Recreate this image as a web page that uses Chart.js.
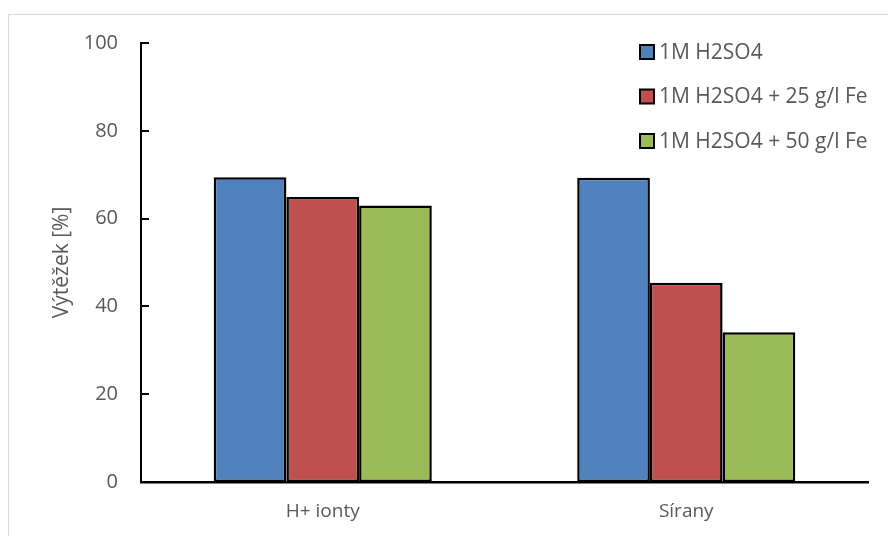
<!DOCTYPE html>
<html>
<head>
<meta charset="utf-8">
<script src="https://cdn.jsdelivr.net/npm/chart.js@4"></script>
<style>
  body { margin: 0; background: #fff; }
  #wrap { position: relative; width: 888px; height: 536px; overflow: hidden; }
  #frame { position: absolute; left: 8px; top: 14px; width: 900px; height: 600px;
           border-left: 1px solid #d9d9d9; border-top: 1px solid #d9d9d9; pointer-events: none; }
</style>
</head>
<body>
<div id="wrap">
  <canvas id="chart" width="888" height="536"></canvas>
  <div id="frame"></div>
</div>
<script>
// kategorie a hodnoty výtěžku [%]
const categories = ['H+ ionty', 'Sírany'];
const seriesNames = ['1M H2SO4', '1M H2SO4 + 25 g/l Fe', '1M H2SO4 + 50 g/l Fe'];
const acid = [69.4, 69.3];
const acidFe25 = [64.9, 45.4];
const acidFe50 = [63.0, 34.1];
const yTicks = [0, 20, 40, 60, 80, 100];

const colors = ['#4F81BD', '#C0504D', '#9BBB59'];
const textColor = '#595959';
const fontFamily = '"Open Sans", sans-serif';

// krátké značky na ose y směrem dovnitř grafu
const innerTicks = {
  id: 'innerTicks',
  afterDraw(chart) {
    const ctx = chart.ctx;
    const y = chart.scales.y;
    ctx.save();
    ctx.strokeStyle = '#000';
    ctx.lineWidth = 2;
    y.ticks.forEach(t => {
      const py = Math.round(y.getPixelForValue(t.value));
      ctx.beginPath();
      ctx.moveTo(y.right, py);
      ctx.lineTo(y.right + 8, py);
      ctx.stroke();
    });
    ctx.restore();
  }
};

// legenda vpravo nahoře
const sideLegend = {
  id: 'sideLegend',
  afterDraw(chart) {
    const ctx = chart.ctx;
    ctx.save();
    ctx.font = '21px ' + fontFamily;
    ctx.textBaseline = 'middle';
    chart.data.datasets.forEach((ds, i) => {
      const cy = 52 + i * 44.5;
      ctx.fillStyle = ds.backgroundColor;
      ctx.fillRect(640, cy - 7, 14, 14);
      ctx.strokeStyle = '#000';
      ctx.lineWidth = 2;
      ctx.strokeRect(640, cy - 7, 14, 14);
      ctx.fillStyle = textColor;
      ctx.fillText(ds.label, 659, cy + 1);
    });
    ctx.restore();
  }
};

new Chart(document.getElementById('chart'), {
  type: 'bar',
  data: {
    labels: categories,
    datasets: [acid, acidFe25, acidFe50].map((d, i) => ({
      label: seriesNames[i],
      data: d,
      backgroundColor: colors[i],
      borderColor: '#000',
      borderWidth: 2.5,
      borderSkipped: false
    }))
  },
  options: {
    responsive: false,
    animation: false,
    layout: { padding: { top: 43, right: 20, left: 0, bottom: 0 } },
    datasets: { bar: { categoryPercentage: 0.6, barPercentage: 1.0 } },
    plugins: { legend: { display: false }, tooltip: { enabled: false } },
    scales: {
      x: {
        grid: { display: false, drawTicks: false },
        border: { color: '#000', width: 2.5 },
        ticks: { color: textColor, font: { family: fontFamily, size: 19 }, padding: 18 },
        afterFit(scale) { scale.height = 54; }
      },
      y: {
        min: 0,
        max: 100,
        afterBuildTicks(scale) { scale.ticks = yTicks.map(v => ({ value: v })); },
        grid: { display: false, drawTicks: false },
        border: { color: '#000', width: 2 },
        ticks: { color: textColor, font: { family: fontFamily, size: 20 }, padding: 23 },
        title: {
          display: true,
          text: 'Výtěžek [%]',
          color: textColor,
          font: { family: fontFamily, size: 21 },
          padding: { top: 49, bottom: 0 }
        },
        afterFit(scale) { scale.width = 141; }
      }
    }
  },
  plugins: [innerTicks, sideLegend]
});
</script>
</body>
</html>
